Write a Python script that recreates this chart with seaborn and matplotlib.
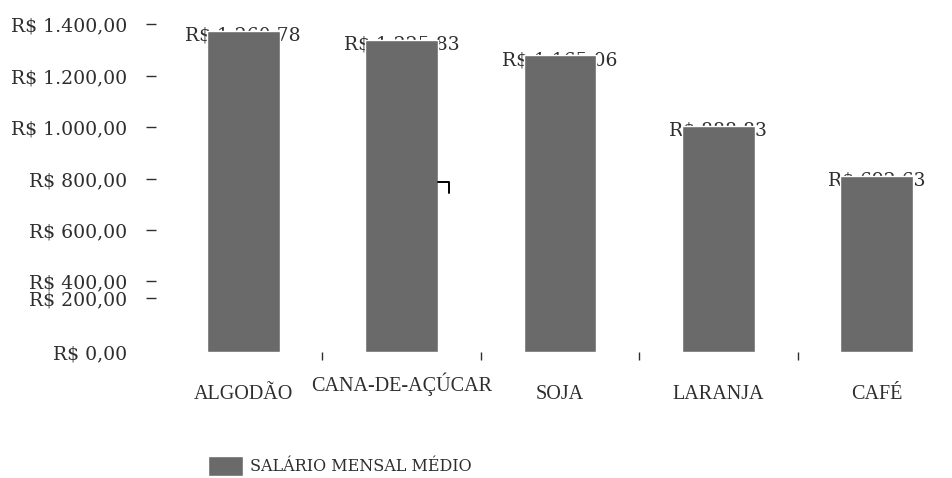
import matplotlib
matplotlib.use("Agg")
import matplotlib.pyplot as plt
from matplotlib.lines import Line2D
from matplotlib.transforms import ScaledTranslation
import pandas as pd
import seaborn as sns

# Data
culturas = ["ALGODÃO", "CANA-DE-AÇÚCAR", "SOJA", "LARANJA", "CAFÉ"]
salarios = [1260.78, 1225.83, 1165.06, 888.83, 692.63]
serie = "SALÁRIO MENSAL MÉDIO"
ytick_labels = ["R$ 1.400,00", "R$ 1.200,00", "R$ 1.000,00", "R$ 800,00",
                "R$ 600,00", "R$ 400,00", "R$ 200,00", "R$ 0,00"]

# Layout of the (irregularly spaced) value-axis labels, in axis units
ytick_pos = [1288, 1084, 884, 680, 479, 279, 212, 0]


def brl(v):
    s = f"{v:,.2f}"
    return "R$ " + s.replace(",", "#").replace(".", ",").replace("#", ".")


df = pd.DataFrame({"cultura": culturas, "salario": salarios})

sns.set_style("white")
plt.rcParams["font.family"] = ["DejaVu Serif"]
text_color = "#2e2e2e"
bar_color = "#6a6a6a"

W, H = 952, 478
fig = plt.figure(figsize=(W / 100, H / 100), dpi=100)
ax = fig.add_axes([164 / W, (H - 352) / H, (956 - 164) / W, 351.3 / H])

sns.barplot(data=df, x="cultura", y="salario", color=bar_color, width=0.46,
            saturation=1, label=serie, ax=ax, zorder=2)

ax.set_ylim(0, 1380)
ax.set_xlim(-0.5, len(culturas) - 0.5)
ax.set_xlabel("")
ax.set_ylabel("")

# Value labels sit behind the bars
for i, v in enumerate(salarios):
    ax.annotate(brl(v), xy=(i, v), xytext=(0, -2), textcoords="offset points",
                ha="center", va="center_baseline", fontsize=13.5,
                color=text_color, zorder=1, family="DejaVu Serif")

# Value axis
for sp in ax.spines.values():
    sp.set_visible(False)
ax.spines["left"].set_position(("outward", 6))
ax.set_yticks(ytick_pos)
ax.set_yticklabels(ytick_labels, fontsize=13.6, color=text_color)
ax.tick_params(axis="y", which="major", left=True, length=7.2, width=1,
               color=text_color, pad=13)
ax.yaxis.get_major_ticks()[-1].tick1line.set_visible(False)

# Category axis
ax.set_xticks(range(len(culturas)))
ax.set_xticklabels(culturas, fontsize=14.5, color=text_color,
                   family="Liberation Serif")
ax.set_xticks([i + 0.5 for i in range(len(culturas) - 1)], minor=True)
ax.tick_params(axis="x", which="major", bottom=True, length=0, pad=23.5)
ax.tick_params(axis="x", which="minor", bottom=True, length=6, width=1,
               color=text_color)
lbl = ax.get_xticklabels()[1]
lbl.set_transform(lbl.get_transform() + ScaledTranslation(0, 9 / 72, fig.dpi_scale_trans))

ax.grid(False)

leg = ax.legend(loc="center left", bbox_to_anchor=(208 / W, 1 - 466 / H),
                bbox_transform=fig.transFigure, frameon=False, fontsize=11.5,
                handlelength=2.2, handleheight=1.5, handletextpad=0.45,
                borderpad=0, borderaxespad=0)
for t in leg.get_texts():
    t.set_color(text_color)

fig.add_artist(Line2D([438 / W, 449 / W, 449 / W],
                      [1 - 182 / H, 1 - 182 / H, 1 - 193 / H],
                      transform=fig.transFigure, color="black", lw=1.4))

fig.savefig("out.png", dpi=100)
